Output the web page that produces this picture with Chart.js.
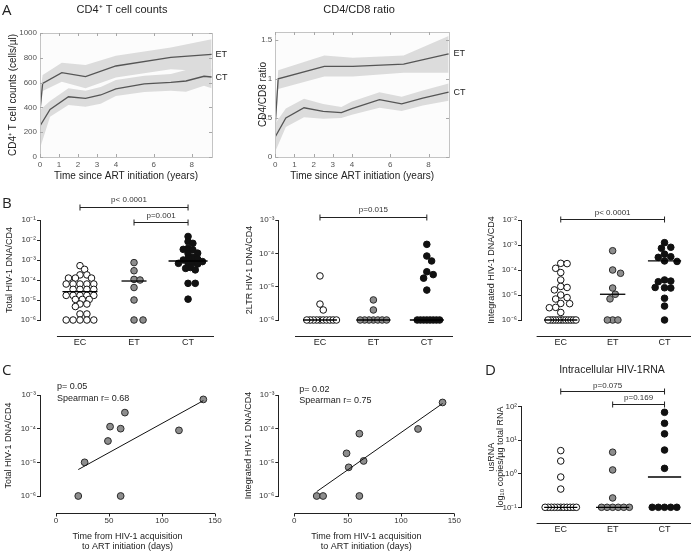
<!DOCTYPE html>
<html lang="en">
<head>
<meta charset="UTF-8" />
<title>HIV-1 reservoir figure</title>
<script src="https://cdn.jsdelivr.net/npm/chart.js"></script>
<style>
  body { margin: 0; background: #fff; }
  #fig { position: relative; width: 696px; height: 554px; }
  #fig canvas { position: absolute; left: 0; top: 0; }
</style>
</head>
<body>
<div id="fig">
  <canvas id="a1" width="696" height="554"></canvas>
  <canvas id="a2" width="696" height="554"></canvas>
  <canvas id="b1" width="696" height="554"></canvas>
  <canvas id="b2" width="696" height="554"></canvas>
  <canvas id="b3" width="696" height="554"></canvas>
  <canvas id="c1" width="696" height="554"></canvas>
  <canvas id="c2" width="696" height="554"></canvas>
  <canvas id="d1" width="696" height="554"></canvas>
</div>
<script>
// ---- data ----
// A: CD4+ T cell counts (mean line + band)
const cd4EtYears = [0, 0.14, 1.15, 2.4, 4, 6.9, 9.05];
const cd4Et      = [380, 594, 680, 648, 734, 804, 828];
const cd4EtHigh  = [520, 661, 761, 742, 817, 884, 949];
const cd4EtLow   = [300, 532, 607, 554, 642, 707, 690];
const cd4CtYears = [0, 0.53, 1.5, 2.4, 3.2, 4, 5.5, 6.9, 7.7, 8.65, 9.05];
const cd4Ct      = [250, 384, 486, 473, 500, 549, 589, 602, 613, 651, 645];
const cd4CtHigh  = [379, 451, 554, 535, 565, 621, 655, 669, 702, 720, 712];
const cd4CtLow   = [70, 325, 419, 406, 430, 492, 525, 535, 527, 575, 554];

// A: CD4/CD8 ratio
const ratioEtYears = [0, 0.15, 2.56, 4.05, 6.7, 9.05];
const ratioEt      = [0.43, 1.0, 1.16, 1.16, 1.19, 1.32];
const ratioEtHigh  = [0.56, 1.11, 1.30, 1.27, 1.30, 1.55];
const ratioEtLow   = [0.30, 0.87, 1.03, 1.03, 1.08, 1.08];
const ratioCtYears = [0, 0.55, 1.5, 2.5, 3.45, 4.0, 5.44, 6.6, 7.7, 9.05];
const ratioCt      = [0.26, 0.50, 0.63, 0.585, 0.568, 0.62, 0.733, 0.68, 0.754, 0.83];
const ratioCtHigh  = [0.43, 0.62, 0.745, 0.68, 0.64, 0.71, 0.83, 0.77, 0.85, 0.94];
const ratioCtLow   = [0.07, 0.385, 0.51, 0.49, 0.50, 0.54, 0.63, 0.59, 0.66, 0.72];

const yearTicks = [0, 1, 2, 3, 4, 6, 8];
const cd4Ticks = [0, 200, 400, 600, 800, 1000];
const ratioTicks = [0, 0.5, 1, 1.5];

// B: per-group values (copies / CD4)
const groups = ['EC', 'ET', 'CT'];
const totalEC = [5.2e-4, 3.4e-4, 1.8e-4, 1.8e-4, 1.25e-4, 1.25e-4, 1.25e-4,
  6.3e-5, 6.3e-5, 6.3e-5, 6.3e-5, 6.3e-5, 3.4e-5, 3.4e-5, 3.4e-5, 3.4e-5,
  1.7e-5, 1.7e-5, 1.7e-5, 1.7e-5, 1.7e-5, 1.07e-5, 1.07e-5, 1.07e-5,
  6.3e-6, 6.3e-6, 4.7e-6, 2e-6, 2e-6, 1e-6, 1e-6, 1e-6, 1e-6, 1e-6];
const totalET = [7.4e-4, 2.9e-4, 1.07e-4, 1.0e-4, 4.2e-5, 1e-5, 1e-6, 1e-6];
const totalCT = [1.5e-2, 8.3e-3, 6.8e-3, 3.8e-3, 3.2e-3, 3.4e-3, 2.2e-3, 2.1e-3,
  1.35e-3, 1.2e-3, 1.0e-3, 1.1e-3, 6.8e-4, 7.4e-4, 6.8e-4, 8.3e-4, 6.3e-4,
  4.2e-4, 3.8e-4, 3.2e-4, 6.8e-5, 6.8e-5, 1.1e-5];
const totalMedians = [2.6e-5, 8.9e-5, 8.9e-4];

const ltrEC = [2.1e-5, 3e-6, 2e-6, 1e-6, 1e-6, 1e-6, 1e-6, 1e-6, 1e-6, 1e-6, 1e-6, 1e-6, 1e-6];
const ltrET = [4e-6, 2e-6, 1e-6, 1e-6, 1e-6, 1e-6, 1e-6, 1e-6, 1e-6];
const ltrCT = [1.86e-4, 8.3e-5, 5.9e-5, 2.8e-5, 2.3e-5, 1.8e-5, 7.9e-6,
  1e-6, 1e-6, 1e-6, 1e-6, 1e-6, 1e-6, 1e-6, 1e-6];
const ltrMedians = [1e-6, 1e-6, 1e-6];

const intEC = [1.85e-4, 1.8e-4, 1.17e-4, 7.9e-5, 4e-5, 2.2e-5, 2e-5, 1.6e-5,
  1e-5, 7.9e-6, 6.9e-6, 4.6e-6, 4.5e-6, 3.2e-6, 3.1e-6, 2e-6,
  1e-6, 1e-6, 1e-6, 1e-6, 1e-6, 1e-6, 1e-6, 1e-6, 1e-6, 1e-6, 1e-6, 1e-6];
const intET = [5.9e-4, 1e-4, 7.4e-5, 1.9e-5, 1.07e-5, 7e-6, 1e-6, 1e-6, 1e-6];
const intCT = [1.24e-3, 8.1e-4, 7.4e-4, 4.3e-4, 3.4e-4, 3.2e-4, 2.3e-4, 2.2e-4,
  4e-5, 3.6e-5, 3.4e-5, 1.95e-5, 1.9e-5, 2e-5, 7.4e-6, 3.6e-6, 1e-6];
const intMedians = [1e-6, 1.07e-5, 2.3e-4];

// C: time to ART (days) vs reservoir
const daysToArt = [21, 27, 49, 51, 61, 65, 61, 116, 139];
const totalByDays = [1e-6, 1e-5, 4.3e-5, 1.15e-4, 1e-4, 3e-4, 1e-6, 8.9e-5, 7.4e-4];
const intByDays = [1e-6, 1e-6, 1.85e-5, 7.1e-6, 7.1e-5, 1.1e-5, 1e-6, 9.8e-5, 6e-4];
const fitDays = [21, 139];
const totalFit = [6.1e-6, 6.8e-4];
const intFit = [1.35e-6, 5.6e-4];

// D: usRNA copies / ug total RNA
const rnaEC = [4.9, 2.4, 0.8, 0.35, 0.1, 0.1, 0.1, 0.1, 0.1, 0.1, 0.1, 0.1, 0.1, 0.1, 0.1];
const rnaET = [4.4, 1.3, 0.19, 0.1, 0.1, 0.1, 0.1, 0.1, 0.1];
const rnaCT = [68, 32, 15.5, 5.1, 1.45, 0.1, 0.1, 0.1, 0.1, 0.1];
const rnaMedians = [0.1, 0.1, 0.8];

// ---- helpers ----
const W = 696, H = 554;
const FONT = '"Liberation Sans", Arial, sans-serif';
const LETTER_FONT = '"Open Sans", "Liberation Sans", sans-serif';
const SUP = {'-': '\u207B', '0': '\u2070', '1': '\u00B9', '2': '\u00B2', '3': '\u00B3',
  '4': '\u2074', '5': '\u2075', '6': '\u2076', '7': '\u2077', '8': '\u2078', '9': '\u2079'};
const NOTES = {};   // per-canvas annotations, read by the plugin below

function pts(xs, ys) { return xs.map((x, i) => ({x: x, y: ys[i]})); }
function tenTo(v) {
  const e = Math.round(Math.log10(v));
  return '10' + String(e).split('').map(c => SUP[c]).join('');
}
function decades(a, b) {
  const out = [];
  for (let e = a; e <= b; e++) out.push({value: Math.pow(10, e)});
  return out;
}
function fixed(list) { return list.map(v => ({value: v})); }

// simple beeswarm: spreads points of a group sideways (in px) so they do not pile up
function swarm(vals, c, rowSep, sep, pxU, pxD) {
  const placed = [];
  const step = Math.min(rowSep, sep) / 2;
  return vals.map(v => {
    const y = Math.log10(v) * pxD;
    let off = 0;
    for (let k = 0; k < 300; k++) {
      off = (k % 2 ? 1 : -1) * Math.ceil(k / 2) * step;
      const hit = placed.some(p => {
        const dy = Math.abs(p.y - y), dx = Math.abs(p.x - off);
        return dy < 0.01 ? dx < rowSep - 1e-6 : Math.hypot(dx, dy) < sep;
      });
      if (!hit) break;
    }
    placed.push({x: off, y: y});
    return {x: c + off / pxU, y: v};
  });
}

// work out padding / scale sizes so the plot area lands on given pixels
function box(area, yt, xt) {
  const ylh = yt.size * yt.lh;
  const padLeft = yt.x - ylh / 2;
  const xh = xt ? xt.y + xt.size * xt.lh / 2 - area[3] : 30;
  return {
    padding: {left: padLeft, top: area[1], right: W - area[2], bottom: H - area[3] - xh},
    yWidth: area[0] - padLeft,
    xHeight: xh
  };
}

// annotations: frames, detached axis lines, brackets, free text
const notes = {
  id: 'notes',
  beforeDraw(chart) {
    const o = NOTES[chart.canvas.id] || {};
    if (!o.plotBg) return;
    const a = chart.chartArea, ctx = chart.ctx;
    ctx.save();
    ctx.fillStyle = o.plotBg;
    ctx.fillRect(a.left, a.top, a.right - a.left, a.bottom - a.top);
    ctx.restore();
  },
  afterDraw(chart) {
    const o = NOTES[chart.canvas.id] || {};
    const ctx = chart.ctx, a = chart.chartArea;
    const xs = chart.scales.x, ys = chart.scales.y;
    ctx.save();
    if (o.frame) {
      ctx.strokeStyle = '#c4c4c4';
      ctx.lineWidth = 1;
      ctx.strokeRect(Math.round(a.left) + 0.5, Math.round(a.top) + 0.5,
        Math.round(a.right - a.left), Math.round(a.bottom - a.top));
      ctx.strokeStyle = '#a8a8a8';
      ctx.beginPath();
      xs.ticks.forEach(t => {
        const x = Math.round(xs.getPixelForValue(t.value)) + 0.5;
        ctx.moveTo(x, a.bottom); ctx.lineTo(x, a.bottom - 3);
        ctx.moveTo(x, a.top); ctx.lineTo(x, a.top + 3);
      });
      ys.ticks.forEach(t => {
        const y = Math.round(ys.getPixelForValue(t.value)) + 0.5;
        ctx.moveTo(a.left, y); ctx.lineTo(a.left + 3, y);
        ctx.moveTo(a.right, y); ctx.lineTo(a.right - 3, y);
      });
      ctx.stroke();
    }
    if (o.axisLine) {
      const L = o.axisLine;
      const y = Math.round(a.bottom + L.gap) + 0.5;
      ctx.strokeStyle = '#222';
      ctx.lineWidth = 1;
      ctx.beginPath();
      ctx.moveTo(xs.getPixelForValue(L.from), y);
      ctx.lineTo(xs.getPixelForValue(L.to), y);
      (L.ticks || []).forEach(v => {
        const x = Math.round(xs.getPixelForValue(v)) + 0.5;
        ctx.moveTo(x, y); ctx.lineTo(x, y + 3);
      });
      ctx.stroke();
    }
    (o.brackets || []).forEach(b => {
      const x1 = xs.getPixelForValue(b.from), x2 = xs.getPixelForValue(b.to);
      const y = Math.round(b.y) + 0.5;
      ctx.strokeStyle = '#222';
      ctx.lineWidth = 1;
      ctx.beginPath();
      ctx.moveTo(x1, y); ctx.lineTo(x2, y);
      ctx.moveTo(x1, y - 3); ctx.lineTo(x1, y + 3);
      ctx.moveTo(x2, y - 3); ctx.lineTo(x2, y + 3);
      ctx.stroke();
      ctx.fillStyle = '#333';
      ctx.font = '8px ' + FONT;
      ctx.textAlign = 'center';
      ctx.textBaseline = 'middle';
      ctx.fillText(b.label, (x1 + x2) / 2 + (b.lx || 0), b.ly);
    });
    (o.texts || []).forEach(t => {
      let x = t.px, y = t.py;
      if (t.at) {
        x = xs.getPixelForValue(t.at[0]) + (t.ox || 0);
        y = ys.getPixelForValue(t.at[1]) + (t.oy || 0);
      }
      ctx.fillStyle = t.color || '#222';
      ctx.font = t.size + 'px ' + (t.family || FONT);
      ctx.textAlign = t.align || 'left';
      ctx.textBaseline = 'middle';
      ctx.fillText(t.t, x, y);
    });
    ctx.restore();
  }
};
Chart.register(notes);

const tickFont = {family: FONT, size: 8};

function bandChart(id, s) {
  const b = box(s.area, {x: s.yTitleX, size: 10, lh: 1.2}, {y: 176.7, size: 10, lh: 1.2});
  NOTES[id] = {plotBg: '#fcfcfc', frame: true, texts: s.texts};
  const line = {borderColor: '#555', borderWidth: 1.3, pointRadius: 0, fill: false, tension: 0};
  const band = {borderWidth: 0, borderColor: 'rgba(0,0,0,0)', backgroundColor: '#dcdcdc', pointRadius: 0, tension: 0};
  return new Chart(document.getElementById(id), {
    type: 'line',
    data: {
      datasets: [
        Object.assign({label: 'ET', data: pts(s.et.x, s.et.y)}, line),
        Object.assign({label: 'CT', data: pts(s.ct.x, s.ct.y)}, line),
        Object.assign({label: 'ET high', data: pts(s.et.x, s.et.hi), fill: '+1'}, band),
        Object.assign({label: 'ET low', data: pts(s.et.x, s.et.lo), fill: false}, band),
        Object.assign({label: 'CT high', data: pts(s.ct.x, s.ct.hi), fill: '+1'}, band),
        Object.assign({label: 'CT low', data: pts(s.ct.x, s.ct.lo), fill: false}, band)
      ]
    },
    options: {
      responsive: false,
      animation: false,
      layout: {padding: b.padding},
      plugins: {legend: {display: false}, tooltip: {enabled: false}},
      scales: {
        x: {
          type: 'linear', min: 0, max: 9.07,
          afterBuildTicks: ax => { ax.ticks = fixed(yearTicks); },
          afterFit: sc => { sc.height = b.xHeight; },
          grid: {display: false, drawTicks: false},
          border: {display: false},
          ticks: {font: tickFont, color: '#555', padding: 3, autoSkip: false, maxRotation: 0, callback: v => String(v)},
          title: {display: true, text: 'Time since ART initiation (years)', padding: 0,
            font: {family: FONT, size: 10, lineHeight: 1.2}, color: '#222'}
        },
        y: {
          min: 0, max: s.ymax,
          afterBuildTicks: ax => { ax.ticks = fixed(s.yTicks); },
          afterFit: sc => { sc.width = b.yWidth; },
          grid: {display: false, drawTicks: false},
          border: {display: false},
          ticks: {font: tickFont, color: '#555', padding: 3, autoSkip: false, callback: v => String(v)},
          title: {display: true, text: s.yTitle, padding: 0,
            font: {family: FONT, size: 10, lineHeight: 1.2}, color: '#222'}
        }
      }
    }
  });
}

function logY(b, s) {
  return {
    type: 'logarithmic', min: Math.pow(10, s.yExp[0]), max: Math.pow(10, s.yExp[1]),
    afterBuildTicks: ax => { ax.ticks = decades(s.yExp[0], s.yExp[1]); },
    afterFit: sc => { sc.width = b.yWidth; },
    grid: {display: true, drawOnChartArea: false, drawTicks: true, tickLength: 3, color: '#222'},
    border: {display: true, color: '#222'},
    ticks: {font: tickFont, color: '#333', padding: 1, autoSkip: false, callback: v => tenTo(v)},
    title: {display: true, text: s.yTitle, padding: 0,
      font: {family: FONT, size: 9, lineHeight: s.yLh || 1.2}, color: '#222'}
  };
}

function dotPlot(id, s) {
  const b = box(s.area, {x: s.yTitleX, size: 9, lh: s.yLh || 1.2}, null);
  NOTES[id] = {axisLine: {gap: s.gap, from: s.line[0], to: s.line[1]}, brackets: s.brackets, texts: s.texts || []};
  const styles = [
    {bg: '#ffffff', bd: '#111111'},
    {bg: '#8d8d8d', bd: '#2b2b2b'},
    {bg: '#111111', bd: '#111111'}
  ];
  const ds = [];
  s.medians.forEach((m, i) => ds.push({
    label: groups[i] + ' median',
    data: [{x: i + 1 - s.half[i] / s.pxU, y: m}, {x: i + 1 + s.half[i] / s.pxU, y: m}],
    showLine: true, borderColor: '#000', borderWidth: 1.3, pointRadius: 0, clip: false
  }));
  s.values.forEach((vals, i) => ds.push({
    label: groups[i],
    data: swarm(vals, i + 1, s.rowSep[i], s.sep[i], s.pxU, s.pxD),
    pointRadius: 3.3, pointBackgroundColor: styles[i].bg, pointBorderColor: styles[i].bd,
    pointBorderWidth: 1, clip: false
  }));
  return new Chart(document.getElementById(id), {
    type: 'scatter',
    data: {datasets: ds},
    options: {
      responsive: false,
      animation: false,
      layout: {padding: b.padding},
      plugins: {legend: {display: false}, tooltip: {enabled: false}},
      scales: {
        x: {
          type: 'linear', min: s.xr[0], max: s.xr[1],
          afterBuildTicks: ax => { ax.ticks = fixed([1, 2, 3]); },
          afterFit: sc => { sc.height = b.xHeight; },
          grid: {display: false, drawTicks: false},
          border: {display: false},
          ticks: {font: {family: FONT, size: 9}, color: '#222', padding: s.gap + 1.5, autoSkip: false,
            maxRotation: 0, callback: v => groups[v - 1]}
        },
        y: logY(b, s)
      }
    }
  });
}

function daysPlot(id, s) {
  const b = box(s.area, {x: s.yTitleX, size: 9, lh: 1.2}, {y: 546.7, size: 9, lh: 1.1});
  NOTES[id] = {axisLine: {gap: 16.7, from: 0, to: 150, ticks: [0, 50, 100, 150]}, texts: s.texts};
  return new Chart(document.getElementById(id), {
    type: 'scatter',
    data: {
      datasets: [
        {label: 'fit', data: pts(fitDays, s.fit), showLine: true, borderColor: '#111', borderWidth: 1, pointRadius: 0, clip: false},
        {label: 'patients', data: pts(daysToArt, s.vals), pointRadius: 3.4,
          pointBackgroundColor: '#8d8d8d', pointBorderColor: '#2b2b2b', pointBorderWidth: 1, clip: false}
      ]
    },
    options: {
      responsive: false,
      animation: false,
      layout: {padding: b.padding},
      plugins: {legend: {display: false}, tooltip: {enabled: false}},
      scales: {
        x: {
          type: 'linear', min: s.xmin, max: 150,
          afterBuildTicks: ax => { ax.ticks = fixed([0, 50, 100, 150]); },
          afterFit: sc => { sc.height = b.xHeight; },
          grid: {display: false, drawTicks: false},
          border: {display: false},
          ticks: {font: tickFont, color: '#333', padding: 20, autoSkip: false, maxRotation: 0},
          title: {display: true, text: ['Time from HIV-1 acquisition', 'to ART initiation (days)'], padding: 0,
            font: {family: FONT, size: 9, lineHeight: 1.1}, color: '#222'}
        },
        y: logY(b, {yExp: [-6, -3], yTitle: s.yTitle})
      }
    }
  });
}

// ---- A ----
bandChart('a1', {
  area: [40, 33, 212, 157], yTitleX: 13, ymax: 1000, yTicks: cd4Ticks,
  yTitle: 'CD4\u207A T cell counts (cells/\u00B5l)',
  et: {x: cd4EtYears, y: cd4Et, hi: cd4EtHigh, lo: cd4EtLow},
  ct: {x: cd4CtYears, y: cd4Ct, hi: cd4CtHigh, lo: cd4CtLow},
  texts: [
    {t: 'A', px: 2, py: 11, size: 15, family: LETTER_FONT},
    {t: 'CD4\u207A T cell counts', px: 122, py: 10, size: 11, align: 'center'},
    {t: 'ET', at: [cd4EtYears[cd4EtYears.length - 1], cd4Et[cd4Et.length - 1]], ox: 4, size: 9},
    {t: 'CT', at: [cd4CtYears[cd4CtYears.length - 1], cd4Ct[cd4Ct.length - 1]], ox: 4, size: 9}
  ]
});
bandChart('a2', {
  area: [275.3, 32, 449, 157], yTitleX: 263, ymax: 1.6, yTicks: ratioTicks,
  yTitle: 'CD4/CD8 ratio',
  et: {x: ratioEtYears, y: ratioEt, hi: ratioEtHigh, lo: ratioEtLow},
  ct: {x: ratioCtYears, y: ratioCt, hi: ratioCtHigh, lo: ratioCtLow},
  texts: [
    {t: 'CD4/CD8 ratio', px: 359, py: 10, size: 11, align: 'center'},
    {t: 'ET', at: [ratioEtYears[ratioEtYears.length - 1], ratioEt[ratioEt.length - 1]], ox: 5, size: 9},
    {t: 'CT', at: [ratioCtYears[ratioCtYears.length - 1], ratioCt[ratioCt.length - 1]], ox: 5, size: 9}
  ]
});

// ---- B ----
dotPlot('b1', {
  area: [40, 220, 214, 320], yTitleX: 10, yExp: [-6, -1], yTitle: 'Total HIV-1 DNA/CD4',
  xr: [0.26, 3.48], pxU: 54, pxD: 20, gap: 16, line: [0.574, 3.48], sep: [4.6, 6, 4.8],
  values: [totalEC, totalET, totalCT], medians: totalMedians,
  half: [17.5, 12.5, 19.5], rowSep: [5.6, 8, 6.2],
  brackets: [
    {from: 1, to: 3, y: 206.7, label: 'p< 0.0001', ly: 200, lx: -5},
    {from: 2, to: 3, y: 222.3, label: 'p=0.001', ly: 216}
  ],
  texts: [{t: 'B', px: 2, py: 204, size: 15, family: LETTER_FONT}]
});
dotPlot('b2', {
  area: [278.3, 220, 453, 320], yTitleX: 250, yExp: [-6, -3], yTitle: '2LTR HIV-1 DNA/CD4',
  xr: [0.22, 3.49], pxU: 53.5, pxD: 33.3, gap: 16, line: [0.533, 3.49], sep: [6.6, 6.6, 6.6],
  values: [ltrEC, ltrET, ltrCT], medians: ltrMedians,
  half: [17, 17, 17], rowSep: [3.3, 4.4, 3.2],
  brackets: [{from: 1, to: 3, y: 216.7, label: 'p=0.015', ly: 209.3}]
});
dotPlot('b3', {
  area: [521, 220, 695, 320], yTitleX: 491.7, yExp: [-6, -2], yTitle: 'Integrated HIV-1 DNA/CD4',
  xr: [0.234, 3.51], pxU: 53.15, pxD: 25, gap: 16, line: [0.535, 3.51], sep: [6.4, 6.4, 6.4],
  values: [intEC, intET, intCT], medians: intMedians,
  half: [17, 13, 17], rowSep: [2.6, 5.4, 6.6],
  brackets: [{from: 1, to: 3, y: 219, label: 'p< 0.0001', ly: 212.3}]
});

// ---- C ----
daysPlot('c1', {
  area: [40, 395, 215, 496], yTitleX: 9, xmin: -15.1, vals: totalByDays, fit: totalFit,
  yTitle: 'Total HIV-1 DNA/CD4',
  texts: [
    {t: 'C', px: 2, py: 371, size: 15, family: LETTER_FONT},
    {t: 'p= 0.05', px: 57, py: 386.7, size: 9},
    {t: 'Spearman r= 0.68', px: 57, py: 398.5, size: 9}
  ]
});
daysPlot('c2', {
  area: [278.3, 395, 454.3, 496], yTitleX: 248.3, xmin: -15, vals: intByDays, fit: intFit,
  yTitle: 'Integrated HIV-1 DNA/CD4',
  texts: [
    {t: 'p= 0.02', px: 299.3, py: 389.3, size: 9},
    {t: 'Spearman r= 0.75', px: 299.3, py: 400.5, size: 9}
  ]
});

// ---- D ----
dotPlot('d1', {
  area: [521, 406.7, 695, 507.3], yTitleX: 491.7, yLh: 1.0, yExp: [-1, 2],
  yTitle: ['usRNA', 'log\u2081\u2080 copies/\u00B5g total RNA'],
  xr: [0.234, 3.51], pxU: 53.15, pxD: 33.5, gap: 15.4, line: [0.535, 3.51], sep: [6.6, 6.6, 6.6],
  values: [rnaEC, rnaET, rnaCT], medians: rnaMedians,
  half: [17, 17, 17], rowSep: [3.2, 5.7, 6.3],
  brackets: [
    {from: 1, to: 3, y: 391, label: 'p=0.075', ly: 385.7, lx: -5},
    {from: 2, to: 3, y: 404.3, label: 'p=0.169', ly: 397.3}
  ],
  texts: [
    {t: 'D', px: 485, py: 371, size: 15, family: LETTER_FONT},
    {t: 'Intracellular HIV-1RNA', px: 612, py: 370, size: 10.5, align: 'center'}
  ]
});
</script>
</body>
</html>
